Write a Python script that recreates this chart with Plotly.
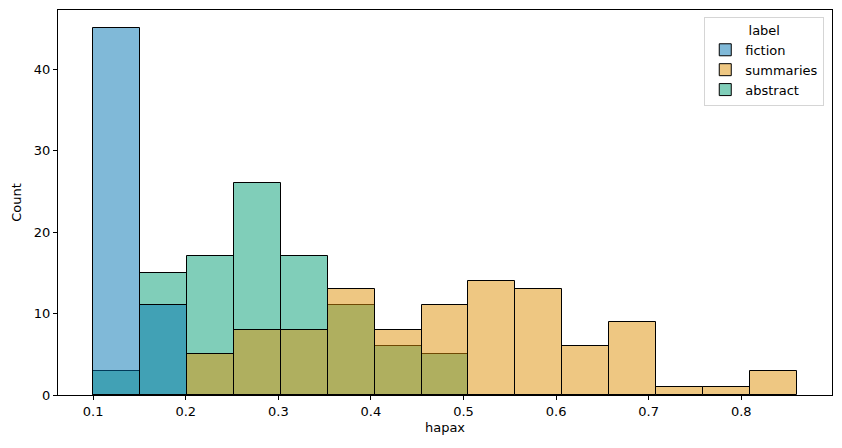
import numpy as np
import plotly.graph_objects as go

# Histogram bins (hapax ratio)
bin_start = 0.1
bin_end = 0.86
n_bins = 15

# Counts per bin for each label
fiction = [45, 11, 0, 0, 0, 0, 0, 0, 0, 0, 0, 0, 0, 0, 0]
summaries = [0, 0, 5, 8, 8, 13, 8, 11, 14, 13, 6, 9, 1, 1, 3]
abstract = [3, 15, 17, 26, 17, 11, 6, 5, 0, 0, 0, 0, 0, 0, 0]

labels = ["fiction", "summaries", "abstract"]
series = {"fiction": fiction, "summaries": summaries, "abstract": abstract}
colors = {
    "fiction": "rgba(1,115,178,0.5)",
    "summaries": "rgba(222,143,5,0.5)",
    "abstract": "rgba(2,158,115,0.5)",
}

edges = np.linspace(bin_start, bin_end, n_bins + 1)
centers = (edges[:-1] + edges[1:]) / 2
width = edges[1] - edges[0]

fig = go.Figure()
# seaborn draws layers in reverse hue order
for name in reversed(labels):
    counts = np.array(series[name])
    mask = counts > 0
    fig.add_trace(go.Bar(
        x=centers[mask], y=counts[mask], width=width,
        name=name,
        marker=dict(color=colors[name], line=dict(color="black", width=1)),
    ))

span = bin_end - bin_start
font = dict(family="DejaVu Sans", size=13, color="black")
fig.update_layout(
    width=834, height=440,
    barmode="overlay", bargap=0,
    plot_bgcolor="white", paper_bgcolor="white",
    margin=dict(l=49.5, r=9.5, t=2.3, b=53, pad=0, autoexpand=False),
    font=font,
    showlegend=True,
    legend=dict(
        title=dict(text="label", side="top center", font=font),
        traceorder="reversed",
        x=0.99, y=0.982, xanchor="right", yanchor="top",
        bordercolor="#d5d5d5", borderwidth=1, bgcolor="rgba(255,255,255,0.8)",
        font=font,
    ),
    xaxis=dict(
        range=[bin_start - 0.05 * span, bin_end + 0.05 * span],
        tickvals=[0.1, 0.2, 0.3, 0.4, 0.5, 0.6, 0.7, 0.8],
        ticktext=["0.1", "0.2", "0.3", "0.4", "0.5", "0.6", "0.7", "0.8"],
        ticks="outside", ticklen=4, tickcolor="black",
        showline=True, linecolor="black", linewidth=1, mirror=True,
        showgrid=False, zeroline=False, automargin=False,
        title=dict(text="hapax", font=font, standoff=5),
    ),
    yaxis=dict(
        range=[0, 45 * 1.05],
        tickvals=[0, 10, 20, 30, 40],
        ticks="outside", ticklen=4, tickcolor="black",
        showline=True, linecolor="black", linewidth=1, mirror=True,
        showgrid=False, zeroline=False, automargin=False,
        title=dict(text="Count", font=font, standoff=9),
    ),
)

fig.write_html("out.html")
